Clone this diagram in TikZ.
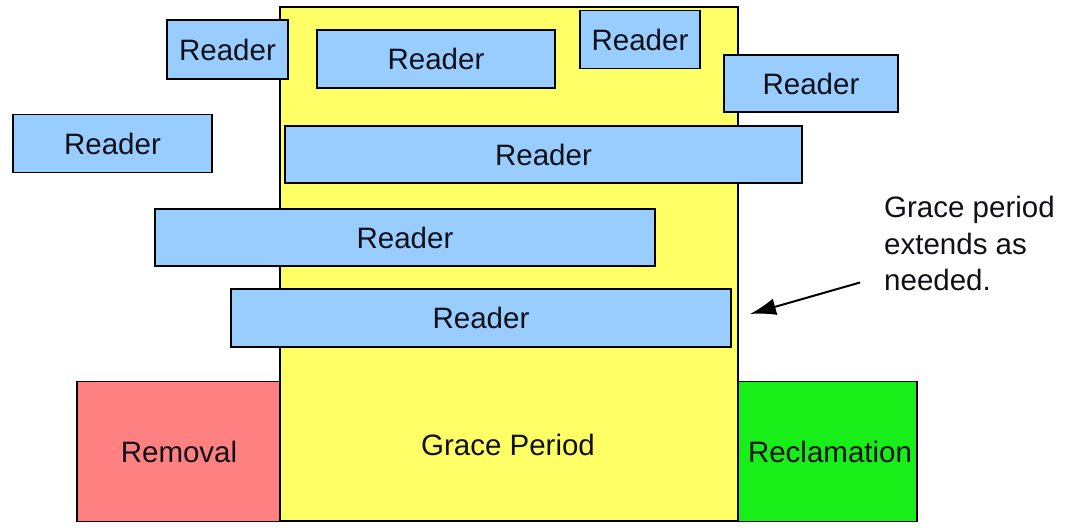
\documentclass[tikz,border=0pt]{standalone}
\usepackage{fontspec}
\setmainfont{Liberation Sans}
\usetikzlibrary{arrows.meta}
\definecolor{rdblue}{RGB}{153,204,255}
\definecolor{gpyellow}{RGB}{255,255,102}
\definecolor{rmred}{RGB}{255,128,128}
\definecolor{rcgreen}{RGB}{24,238,24}
\definecolor{txt}{RGB}{16,16,24}
\begin{document}
\begin{tikzpicture}[x=1pt,y=-1pt,
  every node/.style={font=\fontsize{29.5}{36.5}\selectfont, text=txt},
  box/.style={draw=black, line width=1.8pt, inner sep=0pt, anchor=center},
  reader/.style={box, fill=rdblue},
  plain/.style={inner sep=0pt}]
\useasboundingbox (0,0) rectangle (1076,530);
\fill[white] (0,0) rectangle (1076,530);
% phases
\node[box, fill=gpyellow, minimum width=458pt, minimum height=514pt] (grace) at (509,264) {};
\node[box, fill=rmred, minimum width=203pt, minimum height=140pt] (removal) at (178.5,451.5) {};
\node[box, fill=rcgreen, minimum width=179pt, minimum height=140pt] (reclam) at (827.5,451.5) {};
\node[plain] (gracelbl) at (508,445) {Grace Period};
\node[plain] (removallbl) at (179,451.5) {Removal};
\node[plain] (reclamlbl) at (830,451.5) {Reclamation};
% readers
\node[reader, minimum width=121pt, minimum height=59pt] (r1) at (227.5,49.5) {Reader};
\node[reader, minimum width=238pt, minimum height=58pt] (r2) at (436,59) {Reader};
\node[reader, minimum width=120pt, minimum height=58pt] (r3) at (640,39.5) {Reader};
\node[reader, minimum width=174pt, minimum height=57pt] (r4) at (811,83.5) {Reader};
\node[reader, minimum width=199pt, minimum height=58pt] (r5) at (112.5,143.5) {Reader};
\node[reader, minimum width=517pt, minimum height=57pt] (r6) at (543.5,154.5) {Reader};
\node[reader, minimum width=500pt, minimum height=57pt] (r7) at (405,237.5) {Reader};
\node[reader, minimum width=500pt, minimum height=58pt] (r8) at (481,318) {Reader};
% note
\node[plain, align=left, anchor=north west] (note) at (884,196) {Grace period\\extends as\\needed.};
\coordinate (arrS) at (860,282.5);
\coordinate (arrE) at (750,314);
\draw[line width=2pt, -{Latex[length=26pt,width=17pt]}] (arrS) -- (arrE);
\end{tikzpicture}
\end{document}
